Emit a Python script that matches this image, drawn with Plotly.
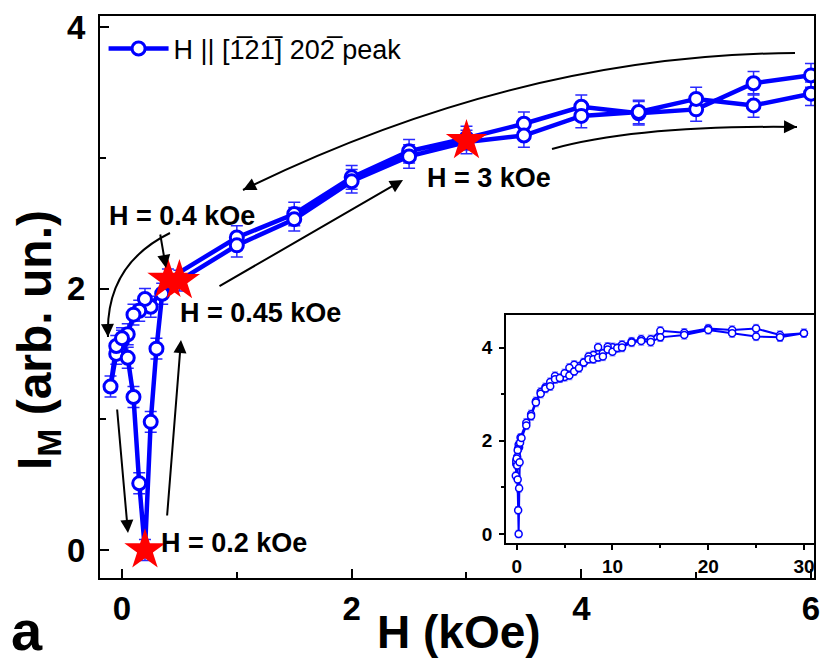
import plotly.graph_objects as go

# ---------------- data ----------------
# decreasing-field branch (30 kOe -> -0.1 kOe)
H_down = [30, 27.5, 25, 22.5, 20, 17.5, 15, 14, 13, 12, 11, 10.5, 10, 9.5, 9, 8.5, 8, 7.5, 7, 6.5,
          6, 5.5, 5, 4.5, 4, 3.5, 3, 2.5, 2, 1.5, 1, 0.4, 0.25, 0.2, 0.15, 0.1, 0.05, 0, -0.05, -0.1]
I_down = [4.31, 4.27, 4.41, 4.38, 4.41, 4.32, 4.36, 4.18, 4.18, 4.13, 4.06, 3.99, 4.01, 4.02, 3.88, 4.01, 3.84, 3.81, 3.68, 3.60,
          3.63, 3.57, 3.37, 3.34, 3.39, 3.26, 3.15, 3.05, 2.85, 2.57, 2.39, 2.07, 1.86, 1.92, 1.83, 1.80, 1.65, 1.60, 1.50, 1.25]
E_down = [0.09] * 31 + [0.08] * 9

# increasing-field branch (-0.1 kOe -> 30 kOe)
H_up = [-0.05, 0, 0.05, 0.1, 0.15, 0.2, 0.25, 0.3, 0.35, 0.5, 1, 1.5, 2, 2.5, 3, 3.5, 4, 4.5, 5, 5.5,
        6, 6.5, 7, 7.5, 8, 8.5, 9, 9.5, 10, 10.5, 11, 12, 13, 14, 15, 17.5, 20, 22.5, 25, 27.5, 30]
I_up = [1.56, 1.62, 1.47, 1.17, 0.51, 0.0, 0.98, 1.54, 1.96, 2.06, 2.33, 2.53, 2.82, 3.01, 3.12, 3.17, 3.32, 3.35, 3.45, 3.40,
        3.49, 3.56, 3.68, 3.75, 3.75, 3.79, 3.81, 3.96, 3.91, 3.99, 4.00, 4.11, 4.14, 4.12, 4.22, 4.27, 4.38, 4.31, 4.24, 4.22, 4.31]
E_up = [0.08] * 10 + [0.09] * 31

H = H_down + H_up
I = I_down + I_up
E = E_down + E_up

# highlighted fields (stars)
H_star = [0.4, 0.5, 3.0, 0.2]
I_star = [2.07, 2.06, 3.13, 0.0]

legend_name = "H || [1\u030521\u0305] 202\u0305 peak"

BLUE = "#0000ff"
FONT = "Arial"

# page geometry (the page body has an 8px margin)
OFF = 8
W, HGT = 830, 664
L, R, T, B = 100, 814, 16, 578   # plot frame in page pixels

fig = go.Figure()

fig.add_trace(go.Scatter(
    x=H, y=I, mode="lines+markers", name=legend_name,
    line=dict(color=BLUE, width=4.5),
    marker=dict(symbol="circle", size=13, color="white", line=dict(color=BLUE, width=3)),
    error_y=dict(type="data", array=E, color="#2a2aff", thickness=1.5, width=6),
    xaxis="x", yaxis="y",
))
fig.add_trace(go.Scatter(
    x=H_star, y=I_star, mode="markers", showlegend=False,
    marker=dict(symbol="star", size=31, color="#ff0000", line=dict(width=0)),
    xaxis="x", yaxis="y",
))
# inset: full field range
fig.add_trace(go.Scatter(
    x=H, y=I, mode="lines+markers", showlegend=False,
    line=dict(color=BLUE, width=2),
    marker=dict(symbol="circle", size=7, color="white", line=dict(color=BLUE, width=1.5)),
    error_y=dict(type="data", array=E, color="#8f8fff", thickness=1, width=3),
    xaxis="x2", yaxis="y2",
))

# ---------------- pixel helpers for annotations ----------------
X0, XS = 122.0, 114.83   # page px of H=0, px per kOe
Y0, YS = 550.0, 130.75   # page px of I=0, px per unit

def dx(px):
    return (px - X0) / XS

def dy(py):
    return (Y0 - py) / YS

shapes = []
annotations = []

def curve(s, c, e):
    shapes.append(dict(type="path", xref="x", yref="y",
                       path=f"M {dx(s[0])},{dy(s[1])} Q {dx(c[0])},{dy(c[1])} {dx(e[0])},{dy(e[1])}",
                       line=dict(color="black", width=2)))
    vx, vy = e[0] - c[0], e[1] - c[1]
    n = (vx * vx + vy * vy) ** 0.5
    annotations.append(dict(x=dx(e[0]), y=dy(e[1]), xref="x", yref="y", text="",
                            showarrow=True, ax=-14 * vx / n, ay=-14 * vy / n,
                            arrowhead=2, arrowsize=1.3, arrowwidth=2, arrowcolor="black"))

def straight(s, e):
    annotations.append(dict(x=dx(e[0]), y=dy(e[1]), xref="x", yref="y", text="",
                            showarrow=True, axref="x", ayref="y", ax=dx(s[0]), ay=dy(s[1]),
                            arrowhead=2, arrowsize=1.3, arrowwidth=2, arrowcolor="black"))

curve((795, 53), (519, 54.5), (243, 190))
curve((552, 149), (640, 125), (797, 127))
curve((170, 233), (105, 265), (108, 337))
straight((218, 287), (403, 180))
straight((160, 233), (166, 268))
straight((117, 408), (128, 533))
straight((167, 517), (181, 340))

def label(text, cx, cy, size=27):
    annotations.append(dict(x=dx(cx), y=dy(cy), xref="x", yref="y", text=text, showarrow=False,
                            xanchor="center", yanchor="middle",
                            font=dict(family=FONT, size=size, color="black", weight="bold")))

label("H = 0.4 kOe", 182, 216)
label("H = 0.45 kOe", 260, 313)
label("H = 3 kOe", 489, 178)
label("H = 0.2 kOe", 234, 543)

def px_paper(px, py):
    return (px - L) / (R - L), (B - py) / (B - T)

def free_text(text, px, py, size, angle=0):
    xp, yp = px_paper(px, py)
    annotations.append(dict(x=xp, y=yp, xref="paper", yref="paper", text=text, showarrow=False,
                            xanchor="center", yanchor="middle", textangle=angle,
                            font=dict(family=FONT, size=size, color="black", weight="bold")))

free_text("H (kOe)", 459, 632, 46)
free_text("I<sub>M</sub>\u00a0(arb. un.)", 38, 340, 48, angle=-90)
free_text("a", 27, 630, 56)

tick_font = dict(family=FONT, size=33, color="black", weight="bold")
inset_font = dict(family=FONT, size=19, color="black", weight="bold")

fig.update_layout(
    width=W - OFF, height=HGT - OFF,
    margin=dict(l=L - OFF, r=W - R, t=T - OFF, b=HGT - B, autoexpand=False),
    paper_bgcolor="white", plot_bgcolor="white",
    showlegend=True,
    legend=dict(x=0.005, y=0.985, xanchor="left", yanchor="top", bgcolor="rgba(0,0,0,0)",
                font=dict(family=FONT, size=27, color="black"), itemwidth=60),
    xaxis=dict(range=[dx(L), dx(R)], showline=True, mirror=True, linecolor="black", linewidth=2,
               ticks="inside", ticklen=9, tickwidth=2, tickcolor="black",
               tickvals=[0, 2, 4, 6], tickfont=tick_font, showgrid=False, zeroline=False,
               minor=dict(tickvals=[1, 3, 5], ticks="inside", ticklen=6, tickwidth=2, tickcolor="black")),
    yaxis=dict(range=[dy(B), dy(T)], showline=True, mirror=True, linecolor="black", linewidth=2,
               ticks="inside", ticklen=9, tickwidth=2, tickcolor="black", ticklabelstandoff=6,
               tickvals=[0, 2, 4], tickfont=tick_font, showgrid=False, zeroline=False,
               minor=dict(tickvals=[1, 3], ticks="inside", ticklen=6, tickwidth=2, tickcolor="black")),
    xaxis2=dict(domain=[(506 - L) / (R - L), 1.0], anchor="y2", range=[-1.12, 31.05],
                showline=True, mirror=True, linecolor="black", linewidth=1.5,
                ticks="outside", ticklen=5, tickwidth=1.5, tickcolor="black",
                tickvals=[0, 10, 20, 30], tickfont=inset_font, showgrid=False, zeroline=False,
                minor=dict(tickvals=[5, 15, 25], ticks="outside", ticklen=3, tickwidth=1.5, tickcolor="black")),
    yaxis2=dict(domain=[(B - 543) / (B - T), (B - 315) / (B - T)], anchor="x2", range=[-0.193, 4.70],
                showline=True, mirror=True, linecolor="black", linewidth=1.5,
                ticks="outside", ticklen=5, tickwidth=1.5, tickcolor="black", ticklabelstandoff=3,
                tickvals=[0, 2, 4], tickfont=inset_font, showgrid=False, zeroline=False,
                minor=dict(tickvals=[1, 3], ticks="outside", ticklen=3, tickwidth=1.5, tickcolor="black")),
    shapes=shapes,
    annotations=annotations,
)

fig.write_html("out.html")
